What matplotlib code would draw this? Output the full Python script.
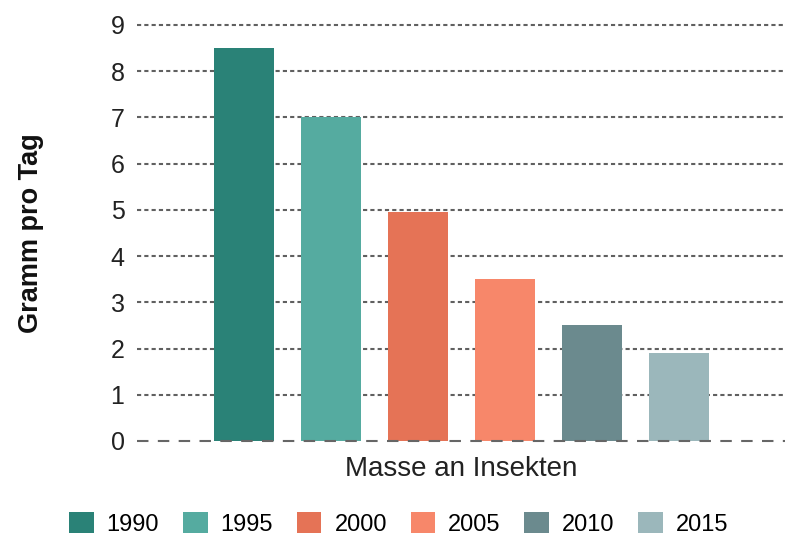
import matplotlib
matplotlib.use("Agg")
import matplotlib.pyplot as plt
from matplotlib.patches import Patch

years = ["1990", "1995", "2000", "2005", "2010", "2015"]
values = [8.5, 7.0, 4.95, 3.5, 2.5, 1.9]
colors = ["#2a8277", "#55aba0", "#e57356", "#f7876a", "#6b8a8e", "#9bb7bb"]
category = "Masse an Insekten"
yticks = [0, 1, 2, 3, 4, 5, 6, 7, 8, 9]

plt.rcParams['font.family'] = ['Liberation Sans', 'DejaVu Sans']

fig = plt.figure(figsize=(7.85, 5.4), dpi=100)
ax = fig.add_axes([137/785, 1-441/540, 648/785, (441-25)/540])

spacing = 87
width = 60
n = len(years)
for i, (y, v, c) in enumerate(zip(years, values, colors)):
    ax.bar((i - (n-1)/2) * spacing, v, width=width, color=c, zorder=3, label=y)

ax.set_xlim(-324, 324)
ax.set_ylim(0, 9)
ax.set_yticks(yticks)
ax.set_yticklabels([str(t) for t in yticks], fontsize=18, color="#222222")
ax.set_xticks([0])
ax.set_xticklabels([category], fontsize=20, color="#222222")
ax.tick_params(axis='x', length=0, pad=11)
ax.tick_params(axis='y', length=0, pad=9)
for s in ax.spines.values():
    s.set_visible(False)
ax.set_axisbelow(True)
for t in yticks:
    if t == 0:
        ax.axhline(t, linestyle=(0, (5.5, 4.5)), color="#666666", linewidth=1.5,
                   zorder=4, clip_on=False)
    else:
        ax.axhline(t, linestyle=(0, (2.0, 1.5)), color="#606060", linewidth=1.5,
                   zorder=1, clip_on=False)
ax.set_ylabel("Gramm pro Tag", fontsize=19.5, fontweight='bold', color="#111111")
ax.yaxis.set_label_coords(-0.143, 0.5)

handles = [Patch(facecolor=c, label=y) for y, c in zip(years, colors)]
fig.legend(handles=handles, loc='center', bbox_to_anchor=(0.508, 1-524/540), ncol=6,
           frameon=False, fontsize=17, handlelength=1.05, handleheight=1.0,
           handletextpad=0.55, columnspacing=1.0)

fig.savefig("out.png", dpi=100)
